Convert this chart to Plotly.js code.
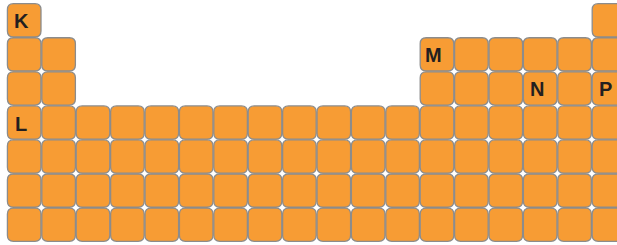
<!DOCTYPE html>
<html>
<head>
<meta charset="utf-8">
<script src="https://cdn.plot.ly/plotly-3.0.1.min.js"></script>
<style>html,body{margin:0;padding:0;background:#fff;}#chart{width:617px;height:245px;}</style>
</head>
<body>
<div id="chart"></div>
<script>
// Grid cells: which columns are present in each row (period)
const rowNumbers = [1, 2, 3, 4, 5, 6, 7];
const rowColumns = [
  [1, 18],
  [1, 2, 13, 14, 15, 16, 17, 18],
  [1, 2, 13, 14, 15, 16, 17, 18],
  [1, 2, 3, 4, 5, 6, 7, 8, 9, 10, 11, 12, 13, 14, 15, 16, 17, 18],
  [1, 2, 3, 4, 5, 6, 7, 8, 9, 10, 11, 12, 13, 14, 15, 16, 17, 18],
  [1, 2, 3, 4, 5, 6, 7, 8, 9, 10, 11, 12, 13, 14, 15, 16, 17, 18],
  [1, 2, 3, 4, 5, 6, 7, 8, 9, 10, 11, 12, 13, 14, 15, 16, 17, 18]
];
// Labelled cells
const labelText = ["K", "M", "N", "P", "L"];
const labelRow  = [1, 2, 3, 3, 4];
const labelCol  = [1, 13, 16, 18, 1];

const fillColor = "#F79C34";
const lineColor = "#8C8C8C";
const pxX = 34.4, pxY = 34.06;
const hx = 0.488, hy = 0.488;
const rx = 6 / pxX, ry = 6 / pxY;

function roundedPath(cx, cy) {
  const x0 = cx - hx, x1 = cx + hx, y0 = cy - hy, y1 = cy + hy;
  return `M ${x0 + rx},${y0} L ${x1 - rx},${y0} Q ${x1},${y0} ${x1},${y0 + ry} ` +
         `L ${x1},${y1 - ry} Q ${x1},${y1} ${x1 - rx},${y1} ` +
         `L ${x0 + rx},${y1} Q ${x0},${y1} ${x0},${y1 - ry} ` +
         `L ${x0},${y0 + ry} Q ${x0},${y0} ${x0 + rx},${y0} Z`;
}

const shapes = [];
rowNumbers.forEach((r, i) => {
  rowColumns[i].forEach(c => {
    shapes.push({
      type: "path", xref: "x", yref: "y",
      path: roundedPath(c, r),
      fillcolor: fillColor,
      line: {color: lineColor, width: 1.3},
      layer: "below"
    });
  });
});

const annotations = labelText.map((t, i) => ({
  x: labelCol[i], y: labelRow[i], xref: "x", yref: "y",
  text: "<b>" + t + "</b>", showarrow: false,
  xshift: -3, yshift: -1,
  font: {family: "Liberation Sans, Arial, sans-serif", size: 20, color: "#231F20"}
}));

const trace = {
  x: [], y: [], type: "scatter", mode: "markers", hoverinfo: "skip", showlegend: false
};

const layout = {
  width: 617, height: 245,
  margin: {l: 0, r: 0, t: 0, b: 0, pad: 0},
  paper_bgcolor: "#ffffff", plot_bgcolor: "#ffffff",
  xaxis: {range: [0.2965, 18.233], showgrid: false, zeroline: false, showticklabels: false, ticks: "", showline: false, fixedrange: true},
  yaxis: {range: [7.596, 0.403], showgrid: false, zeroline: false, showticklabels: false, ticks: "", showline: false, fixedrange: true},
  shapes: shapes,
  annotations: annotations,
  showlegend: false
};

Plotly.newPlot("chart", [trace], layout, {staticPlot: true, displayModeBar: false});
</script>
</body>
</html>
